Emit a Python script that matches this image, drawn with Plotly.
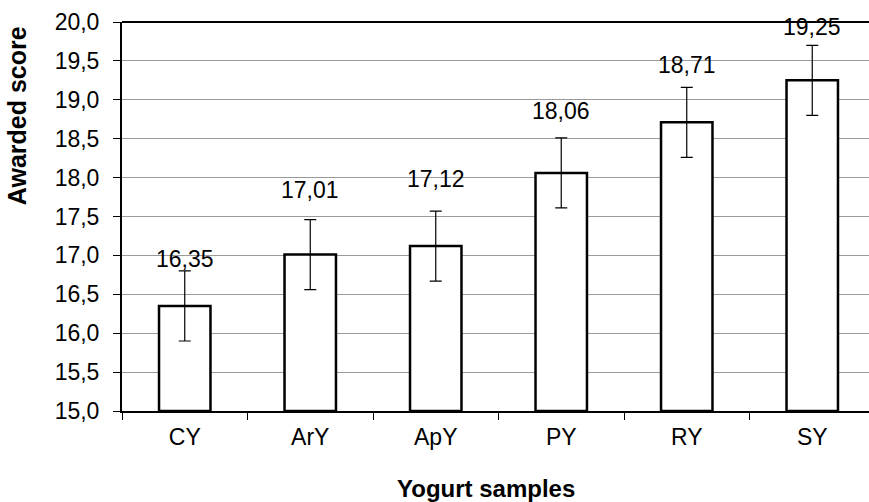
import plotly.graph_objects as go

categories = ["CY", "ArY", "ApY", "PY", "RY", "SY"]
scores = [16.35, 17.01, 17.12, 18.06, 18.71, 19.25]
errors = [0.45, 0.45, 0.45, 0.45, 0.45, 0.45]
value_labels = ["16,35", "17,01", "17,12", "18,06", "18,71", "19,25"]
y_tick_vals = [15.0, 15.5, 16.0, 16.5, 17.0, 17.5, 18.0, 18.5, 19.0, 19.5, 20.0]
y_tick_text = ["15,0", "15,5", "16,0", "16,5", "17,0", "17,5", "18,0", "18,5", "19,0", "19,5", "20,0"]

# pixel lift of each value label above its error-bar top (layout only)
label_lift = [12, 30, 32, 27, 22, 18]

FONT = "Liberation Sans, Arial, sans-serif"
TICK_SIZE = 23
TITLE_SIZE = 25

FIG_W = 869
PLOT_L = 122
PX_PER_CAT = 125.5  # plot area runs off the right edge like the reference

fig = go.Figure()
fig.add_trace(go.Bar(
    x=categories,
    y=[s - 15 for s in scores],
    base=15,
    width=0.41,
    marker=dict(color="white", line=dict(color="black", width=2.5)),
    error_y=dict(type="data", array=errors, visible=True, color="black", thickness=1.2, width=6),
    hoverinfo="skip",
))

for cat, s, e, lab, lift in zip(categories, scores, errors, value_labels, label_lift):
    fig.add_annotation(
        x=cat, y=s + e, text=lab, showarrow=False,
        yanchor="middle", yshift=lift,
        font=dict(family=FONT, size=TICK_SIZE, color="black"),
    )

plot_w = FIG_W - PLOT_L
# axis titles
fig.add_annotation(
    xref="paper", yref="paper", x=0, y=0.758, xshift=-105,
    text="<b>Awarded score</b>", textangle=-90, showarrow=False,
    xanchor="center", yanchor="middle",
    font=dict(family=FONT, size=TITLE_SIZE, color="black"),
)
fig.add_annotation(
    xref="paper", yref="paper", x=(486 - PLOT_L) / plot_w, y=0, yshift=-77,
    text="<b>Yogurt samples</b>", showarrow=False,
    xanchor="center", yanchor="middle",
    font=dict(family=FONT, size=TITLE_SIZE - 1, color="black"),
)

# top border of the plot area
fig.add_shape(type="line", xref="paper", yref="paper", x0=0, x1=1, y0=1, y1=1,
              line=dict(color="black", width=2), layer="above")

fig.update_layout(
    width=FIG_W, height=502,
    margin=dict(l=PLOT_L, r=0, t=22, b=91, autoexpand=False),
    paper_bgcolor="white", plot_bgcolor="white",
    showlegend=False,
    font=dict(family=FONT, size=TICK_SIZE, color="black"),
)
fig.update_xaxes(
    type="category",
    range=[-0.5, -0.5 + plot_w / PX_PER_CAT],
    automargin=False,
    showline=True, linecolor="black", linewidth=2, mirror=False,
    ticks="outside", tickson="boundaries", ticklen=7, tickcolor="black", tickwidth=1,
    showgrid=False,
    tickfont=dict(family=FONT, size=TICK_SIZE),
    ticklabelstandoff=4,
)
fig.update_yaxes(
    range=[15, 20],
    automargin=False,
    tickvals=y_tick_vals, ticktext=y_tick_text,
    showline=True, linecolor="black", linewidth=2,
    ticks="outside", ticklen=7, tickcolor="black", tickwidth=1,
    showgrid=True, gridcolor="#9a9a9a", gridwidth=1,
    zeroline=False,
    tickfont=dict(family=FONT, size=TICK_SIZE),
    ticklabelstandoff=9,
)

page_js = (
    "var s=document.createElement('style');"
    "s.innerHTML='html,body{margin:0;padding:0;overflow:hidden;}"
    "::-webkit-scrollbar{display:none;width:0;height:0;}';"
    "document.head.appendChild(s);"
)

fig.write_html(
    "out.html",
    config={"displayModeBar": False},
    post_script=page_js,
)
